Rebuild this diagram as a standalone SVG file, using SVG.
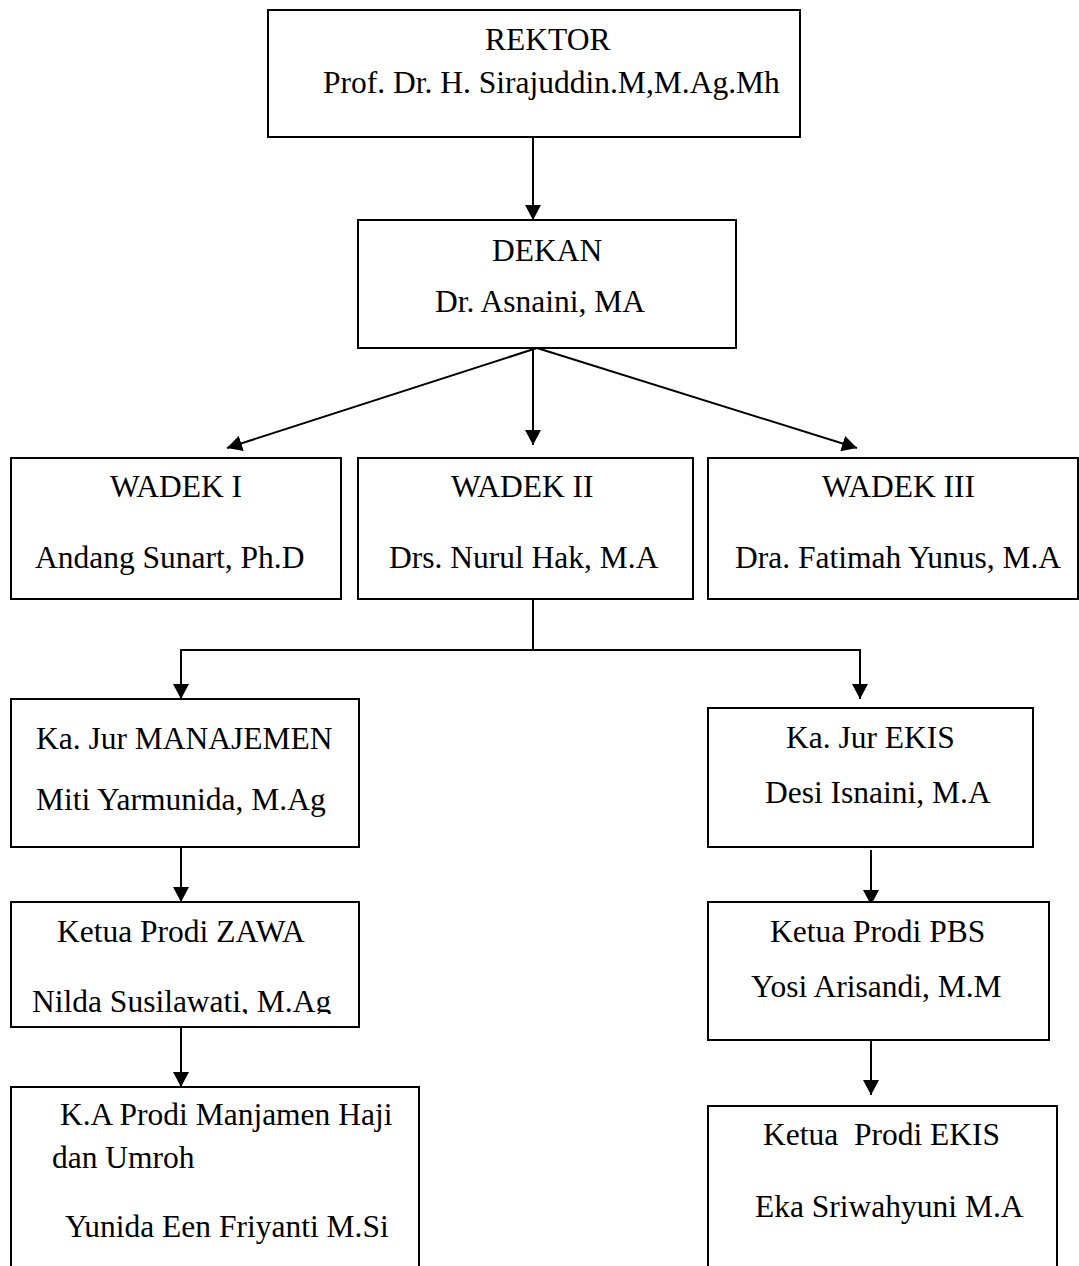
<svg xmlns="http://www.w3.org/2000/svg" width="1079" height="1266" viewBox="0 0 1079 1266">
  <style>
    .box { fill: #ffffff; stroke: #000000; stroke-width: 2; }
    .t { font-family: "Liberation Serif", "Times New Roman", serif; font-size: 31.5px; fill: #000000; }
    .c { fill: none; stroke: #000000; stroke-width: 2; }
  </style>
  <defs>
    <marker id="arrow" viewBox="0 0 15 16" refX="15" refY="8" markerWidth="15" markerHeight="16" markerUnits="userSpaceOnUse" orient="auto">
      <path d="M0,0 L15,8 L0,16 z" fill="#000000"/>
    </marker>
    <clipPath id="clipNilda">
      <rect x="0" y="960" width="400" height="54"/>
    </clipPath>
  </defs>
  <rect x="0" y="0" width="1079" height="1266" fill="#ffffff"/>

  <g id="connectors">
    <line class="c" x1="533" y1="137" x2="533" y2="220" marker-end="url(#arrow)"/>
    <line class="c" x1="537" y1="348" x2="227" y2="448" marker-end="url(#arrow)"/>
    <line class="c" x1="533" y1="348" x2="533" y2="445" marker-end="url(#arrow)"/>
    <line class="c" x1="537" y1="348" x2="857" y2="448" marker-end="url(#arrow)"/>
    <line class="c" x1="533" y1="599" x2="533" y2="650"/>
    <polyline class="c" points="181,650 860,650"/>
    <line class="c" x1="181" y1="649" x2="181" y2="699" marker-end="url(#arrow)"/>
    <line class="c" x1="860" y1="649" x2="860" y2="699" marker-end="url(#arrow)"/>
    <line class="c" x1="181" y1="847" x2="181" y2="902" marker-end="url(#arrow)"/>
    <line class="c" x1="871" y1="850" x2="871" y2="905" marker-end="url(#arrow)"/>
    <line class="c" x1="181" y1="1027" x2="181" y2="1087" marker-end="url(#arrow)"/>
    <line class="c" x1="871" y1="1040" x2="871" y2="1095" marker-end="url(#arrow)"/>
  </g>

  <g id="rektor">
    <rect class="box" x="268" y="10" width="532" height="127"/>
    <text class="t" x="485" y="50">REKTOR</text>
    <text class="t" x="323" y="93">Prof. Dr. H. Sirajuddin.M,M.Ag.Mh</text>
  </g>

  <g id="dekan">
    <rect class="box" x="358" y="220" width="378" height="128"/>
    <text class="t" x="492" y="261">DEKAN</text>
    <text class="t" x="435" y="312">Dr. Asnaini, MA</text>
  </g>

  <g id="wadek1">
    <rect class="box" x="11" y="458" width="330" height="141"/>
    <text class="t" x="110" y="497">WADEK I</text>
    <text class="t" x="35" y="568">Andang Sunart, Ph.D</text>
  </g>

  <g id="wadek2">
    <rect class="box" x="358" y="458" width="335" height="141"/>
    <text class="t" x="451" y="497">WADEK II</text>
    <text class="t" x="389" y="568">Drs. Nurul Hak, M.A</text>
  </g>

  <g id="wadek3">
    <rect class="box" x="708" y="458" width="370" height="141"/>
    <text class="t" x="822" y="497">WADEK III</text>
    <text class="t" x="735" y="568">Dra. Fatimah Yunus, M.A</text>
  </g>

  <g id="kajur-manajemen">
    <rect class="box" x="11" y="699" width="348" height="148"/>
    <text class="t" x="36" y="749">Ka. Jur MANAJEMEN</text>
    <text class="t" x="36" y="810">Miti Yarmunida, M.Ag</text>
  </g>

  <g id="kajur-ekis">
    <rect class="box" x="708" y="708" width="325" height="139"/>
    <text class="t" x="786" y="748">Ka. Jur EKIS</text>
    <text class="t" x="765" y="803">Desi Isnaini, M.A</text>
  </g>

  <g id="prodi-zawa">
    <rect class="box" x="11" y="902" width="348" height="125"/>
    <text class="t" x="57" y="942">Ketua Prodi ZAWA</text>
    <text class="t" x="32" y="1012" clip-path="url(#clipNilda)">Nilda Susilawati, M.Ag</text>
  </g>

  <g id="prodi-pbs">
    <rect class="box" x="708" y="902" width="341" height="138"/>
    <text class="t" x="770" y="942">Ketua Prodi PBS</text>
    <text class="t" x="751" y="997">Yosi Arisandi, M.M</text>
  </g>

  <g id="prodi-haji">
    <rect class="box" x="11" y="1087" width="408" height="200"/>
    <text class="t" x="60" y="1125">K.A Prodi Manjamen Haji</text>
    <text class="t" x="52" y="1168">dan Umroh</text>
    <text class="t" x="65" y="1237">Yunida Een Friyanti M.Si</text>
  </g>

  <g id="prodi-ekis">
    <rect class="box" x="708" y="1106" width="349" height="200"/>
    <text class="t" x="763" y="1145" xml:space="preserve">Ketua  Prodi EKIS</text>
    <text class="t" x="755" y="1217">Eka Sriwahyuni M.A</text>
  </g>
</svg>
